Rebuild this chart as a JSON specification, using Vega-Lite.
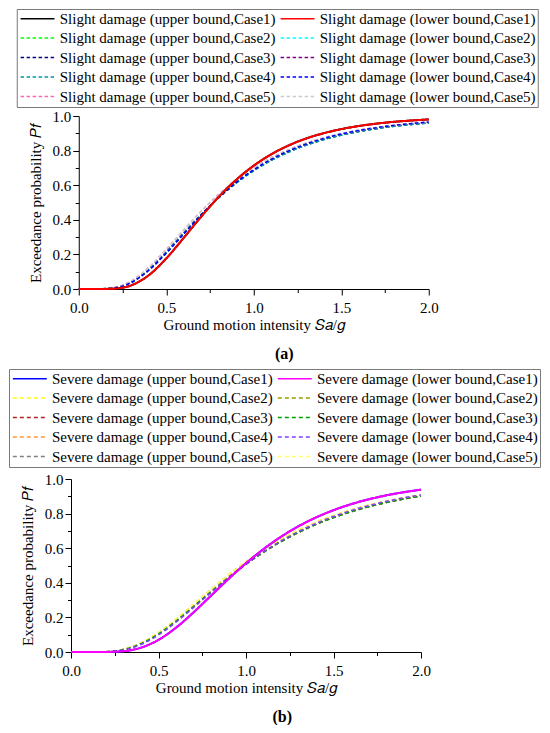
{
  "$schema": "https://vega.github.io/schema/vega-lite/v6.json",
  "padding": {"left": 8, "top": 8, "right": 0, "bottom": 0},
  "background": "white",
  "spacing": 6,
  "center": true,
  "resolve": {"scale": {"color": "independent", "strokeDash": "independent"}, "legend": {"color": "independent", "strokeDash": "independent"}},
  "config": {
    "font": "Liberation Serif",
    "view": {"stroke": null},
    "axis": {
      "labelFont": "Liberation Serif",
      "titleFont": "Liberation Serif",
      "labelFontSize": 15,
      "titleFontSize": 15,
      "titleFontWeight": "normal",
      "labelColor": "black",
      "titleColor": "black",
      "domainColor": "black",
      "tickColor": "black",
      "grid": false,
      "labelPadding": 2,
      "titlePadding": 3,
      "labelOverlap": false,
      "labelFlush": false
    },
    "axisX": {"labelPadding": 5, "titlePadding": 2},
    "axisY": {"titlePadding": 9},
    "legend": {
      "orient": "none",
      "direction": "horizontal",
      "columns": 2,
      "columnPadding": 1,
      "rowPadding": 3.5,
      "padding": 2,
      "labelFont": "Liberation Serif",
      "labelFontSize": 15,
      "labelColor": "black",
      "labelLimit": 0,
      "labelOffset": 26,
      "symbolType": "M-1,0H5",
      "symbolSize": 128,
      "symbolStrokeWidth": 1.6,
      "strokeColor": "#7a7a7a",
      "fillColor": "white"
    },
    "title": {
      "orient": "bottom",
      "font": "Liberation Serif",
      "fontSize": 16,
      "fontWeight": "bold",
      "color": "black",
      "offset": 14,
      "frame": "bounds"
    }
  },
  "datasets": {
    "a": [
      {"s":"Slight damage (upper bound,Case2)","x":0,"p":0},{"s":"Slight damage (upper bound,Case2)","x":0.1,"p":0.0001},{"s":"Slight damage (upper bound,Case2)","x":0.2,"p":0.0067},{"s":"Slight damage (upper bound,Case2)","x":0.3,"p":0.0419},{"s":"Slight damage (upper bound,Case2)","x":0.4,"p":0.1147},{"s":"Slight damage (upper bound,Case2)","x":0.5,"p":0.2141},{"s":"Slight damage (upper bound,Case2)","x":0.6,"p":0.3236},{"s":"Slight damage (upper bound,Case2)","x":0.7,"p":0.4306},{"s":"Slight damage (upper bound,Case2)","x":0.8,"p":0.528},{"s":"Slight damage (upper bound,Case2)","x":0.9,"p":0.6126},{"s":"Slight damage (upper bound,Case2)","x":1.0,"p":0.6843},{"s":"Slight damage (upper bound,Case2)","x":1.1,"p":0.7436},{"s":"Slight damage (upper bound,Case2)","x":1.2,"p":0.7922},{"s":"Slight damage (upper bound,Case2)","x":1.3,"p":0.8317},{"s":"Slight damage (upper bound,Case2)","x":1.4,"p":0.8637},{"s":"Slight damage (upper bound,Case2)","x":1.5,"p":0.8895},{"s":"Slight damage (upper bound,Case2)","x":1.6,"p":0.9102},{"s":"Slight damage (upper bound,Case2)","x":1.7,"p":0.9269},{"s":"Slight damage (upper bound,Case2)","x":1.8,"p":0.9404},{"s":"Slight damage (upper bound,Case2)","x":1.9,"p":0.9513},{"s":"Slight damage (upper bound,Case2)","x":2.0,"p":0.9601},
      {"s":"Slight damage (lower bound,Case2)","x":0,"p":0},{"s":"Slight damage (lower bound,Case2)","x":0.1,"p":0.0001},{"s":"Slight damage (lower bound,Case2)","x":0.2,"p":0.0067},{"s":"Slight damage (lower bound,Case2)","x":0.3,"p":0.0419},{"s":"Slight damage (lower bound,Case2)","x":0.4,"p":0.1147},{"s":"Slight damage (lower bound,Case2)","x":0.5,"p":0.2141},{"s":"Slight damage (lower bound,Case2)","x":0.6,"p":0.3236},{"s":"Slight damage (lower bound,Case2)","x":0.7,"p":0.4306},{"s":"Slight damage (lower bound,Case2)","x":0.8,"p":0.528},{"s":"Slight damage (lower bound,Case2)","x":0.9,"p":0.6126},{"s":"Slight damage (lower bound,Case2)","x":1.0,"p":0.6843},{"s":"Slight damage (lower bound,Case2)","x":1.1,"p":0.7436},{"s":"Slight damage (lower bound,Case2)","x":1.2,"p":0.7922},{"s":"Slight damage (lower bound,Case2)","x":1.3,"p":0.8317},{"s":"Slight damage (lower bound,Case2)","x":1.4,"p":0.8637},{"s":"Slight damage (lower bound,Case2)","x":1.5,"p":0.8895},{"s":"Slight damage (lower bound,Case2)","x":1.6,"p":0.9102},{"s":"Slight damage (lower bound,Case2)","x":1.7,"p":0.9269},{"s":"Slight damage (lower bound,Case2)","x":1.8,"p":0.9404},{"s":"Slight damage (lower bound,Case2)","x":1.9,"p":0.9513},{"s":"Slight damage (lower bound,Case2)","x":2.0,"p":0.9601},
      {"s":"Slight damage (upper bound,Case3)","x":0,"p":0},{"s":"Slight damage (upper bound,Case3)","x":0.1,"p":0.0001},{"s":"Slight damage (upper bound,Case3)","x":0.2,"p":0.0055},{"s":"Slight damage (upper bound,Case3)","x":0.3,"p":0.0377},{"s":"Slight damage (upper bound,Case3)","x":0.4,"p":0.1083},{"s":"Slight damage (upper bound,Case3)","x":0.5,"p":0.2077},{"s":"Slight damage (upper bound,Case3)","x":0.6,"p":0.319},{"s":"Slight damage (upper bound,Case3)","x":0.7,"p":0.4287},{"s":"Slight damage (upper bound,Case3)","x":0.8,"p":0.5288},{"s":"Slight damage (upper bound,Case3)","x":0.9,"p":0.6157},{"s":"Slight damage (upper bound,Case3)","x":1.0,"p":0.6891},{"s":"Slight damage (upper bound,Case3)","x":1.1,"p":0.7495},{"s":"Slight damage (upper bound,Case3)","x":1.2,"p":0.7987},{"s":"Slight damage (upper bound,Case3)","x":1.3,"p":0.8385},{"s":"Slight damage (upper bound,Case3)","x":1.4,"p":0.8704},{"s":"Slight damage (upper bound,Case3)","x":1.5,"p":0.8959},{"s":"Slight damage (upper bound,Case3)","x":1.6,"p":0.9162},{"s":"Slight damage (upper bound,Case3)","x":1.7,"p":0.9325},{"s":"Slight damage (upper bound,Case3)","x":1.8,"p":0.9455},{"s":"Slight damage (upper bound,Case3)","x":1.9,"p":0.9558},{"s":"Slight damage (upper bound,Case3)","x":2.0,"p":0.9641},
      {"s":"Slight damage (lower bound,Case3)","x":0,"p":0},{"s":"Slight damage (lower bound,Case3)","x":0.1,"p":0.0001},{"s":"Slight damage (lower bound,Case3)","x":0.2,"p":0.0067},{"s":"Slight damage (lower bound,Case3)","x":0.3,"p":0.0419},{"s":"Slight damage (lower bound,Case3)","x":0.4,"p":0.1147},{"s":"Slight damage (lower bound,Case3)","x":0.5,"p":0.2141},{"s":"Slight damage (lower bound,Case3)","x":0.6,"p":0.3236},{"s":"Slight damage (lower bound,Case3)","x":0.7,"p":0.4306},{"s":"Slight damage (lower bound,Case3)","x":0.8,"p":0.528},{"s":"Slight damage (lower bound,Case3)","x":0.9,"p":0.6126},{"s":"Slight damage (lower bound,Case3)","x":1.0,"p":0.6843},{"s":"Slight damage (lower bound,Case3)","x":1.1,"p":0.7436},{"s":"Slight damage (lower bound,Case3)","x":1.2,"p":0.7922},{"s":"Slight damage (lower bound,Case3)","x":1.3,"p":0.8317},{"s":"Slight damage (lower bound,Case3)","x":1.4,"p":0.8637},{"s":"Slight damage (lower bound,Case3)","x":1.5,"p":0.8895},{"s":"Slight damage (lower bound,Case3)","x":1.6,"p":0.9102},{"s":"Slight damage (lower bound,Case3)","x":1.7,"p":0.9269},{"s":"Slight damage (lower bound,Case3)","x":1.8,"p":0.9404},{"s":"Slight damage (lower bound,Case3)","x":1.9,"p":0.9513},{"s":"Slight damage (lower bound,Case3)","x":2.0,"p":0.9601},
      {"s":"Slight damage (upper bound,Case4)","x":0,"p":0},{"s":"Slight damage (upper bound,Case4)","x":0.1,"p":0.0001},{"s":"Slight damage (upper bound,Case4)","x":0.2,"p":0.0067},{"s":"Slight damage (upper bound,Case4)","x":0.3,"p":0.0419},{"s":"Slight damage (upper bound,Case4)","x":0.4,"p":0.1147},{"s":"Slight damage (upper bound,Case4)","x":0.5,"p":0.2141},{"s":"Slight damage (upper bound,Case4)","x":0.6,"p":0.3236},{"s":"Slight damage (upper bound,Case4)","x":0.7,"p":0.4306},{"s":"Slight damage (upper bound,Case4)","x":0.8,"p":0.528},{"s":"Slight damage (upper bound,Case4)","x":0.9,"p":0.6126},{"s":"Slight damage (upper bound,Case4)","x":1.0,"p":0.6843},{"s":"Slight damage (upper bound,Case4)","x":1.1,"p":0.7436},{"s":"Slight damage (upper bound,Case4)","x":1.2,"p":0.7922},{"s":"Slight damage (upper bound,Case4)","x":1.3,"p":0.8317},{"s":"Slight damage (upper bound,Case4)","x":1.4,"p":0.8637},{"s":"Slight damage (upper bound,Case4)","x":1.5,"p":0.8895},{"s":"Slight damage (upper bound,Case4)","x":1.6,"p":0.9102},{"s":"Slight damage (upper bound,Case4)","x":1.7,"p":0.9269},{"s":"Slight damage (upper bound,Case4)","x":1.8,"p":0.9404},{"s":"Slight damage (upper bound,Case4)","x":1.9,"p":0.9513},{"s":"Slight damage (upper bound,Case4)","x":2.0,"p":0.9601},
      {"s":"Slight damage (upper bound,Case5)","x":0,"p":0},{"s":"Slight damage (upper bound,Case5)","x":0.1,"p":0.0001},{"s":"Slight damage (upper bound,Case5)","x":0.2,"p":0.0077},{"s":"Slight damage (upper bound,Case5)","x":0.3,"p":0.0464},{"s":"Slight damage (upper bound,Case5)","x":0.4,"p":0.1244},{"s":"Slight damage (upper bound,Case5)","x":0.5,"p":0.2285},{"s":"Slight damage (upper bound,Case5)","x":0.6,"p":0.3412},{"s":"Slight damage (upper bound,Case5)","x":0.7,"p":0.4496},{"s":"Slight damage (upper bound,Case5)","x":0.8,"p":0.5472},{"s":"Slight damage (upper bound,Case5)","x":0.9,"p":0.631},{"s":"Slight damage (upper bound,Case5)","x":1.0,"p":0.7012},{"s":"Slight damage (upper bound,Case5)","x":1.1,"p":0.7589},{"s":"Slight damage (upper bound,Case5)","x":1.2,"p":0.8058},{"s":"Slight damage (upper bound,Case5)","x":1.3,"p":0.8436},{"s":"Slight damage (upper bound,Case5)","x":1.4,"p":0.874},{"s":"Slight damage (upper bound,Case5)","x":1.5,"p":0.8983},{"s":"Slight damage (upper bound,Case5)","x":1.6,"p":0.9178},{"s":"Slight damage (upper bound,Case5)","x":1.7,"p":0.9334},{"s":"Slight damage (upper bound,Case5)","x":1.8,"p":0.9459},{"s":"Slight damage (upper bound,Case5)","x":1.9,"p":0.956},{"s":"Slight damage (upper bound,Case5)","x":2.0,"p":0.964},
      {"s":"Slight damage (lower bound,Case5)","x":0,"p":0},{"s":"Slight damage (lower bound,Case5)","x":0.1,"p":0.0001},{"s":"Slight damage (lower bound,Case5)","x":0.2,"p":0.0077},{"s":"Slight damage (lower bound,Case5)","x":0.3,"p":0.0464},{"s":"Slight damage (lower bound,Case5)","x":0.4,"p":0.1244},{"s":"Slight damage (lower bound,Case5)","x":0.5,"p":0.2285},{"s":"Slight damage (lower bound,Case5)","x":0.6,"p":0.3412},{"s":"Slight damage (lower bound,Case5)","x":0.7,"p":0.4496},{"s":"Slight damage (lower bound,Case5)","x":0.8,"p":0.5472},{"s":"Slight damage (lower bound,Case5)","x":0.9,"p":0.631},{"s":"Slight damage (lower bound,Case5)","x":1.0,"p":0.7012},{"s":"Slight damage (lower bound,Case5)","x":1.1,"p":0.7589},{"s":"Slight damage (lower bound,Case5)","x":1.2,"p":0.8058},{"s":"Slight damage (lower bound,Case5)","x":1.3,"p":0.8436},{"s":"Slight damage (lower bound,Case5)","x":1.4,"p":0.874},{"s":"Slight damage (lower bound,Case5)","x":1.5,"p":0.8983},{"s":"Slight damage (lower bound,Case5)","x":1.6,"p":0.9178},{"s":"Slight damage (lower bound,Case5)","x":1.7,"p":0.9334},{"s":"Slight damage (lower bound,Case5)","x":1.8,"p":0.9459},{"s":"Slight damage (lower bound,Case5)","x":1.9,"p":0.956},{"s":"Slight damage (lower bound,Case5)","x":2.0,"p":0.964},
      {"s":"Slight damage (lower bound,Case4)","x":0,"p":0},{"s":"Slight damage (lower bound,Case4)","x":0.1,"p":0.0001},{"s":"Slight damage (lower bound,Case4)","x":0.2,"p":0.0055},{"s":"Slight damage (lower bound,Case4)","x":0.3,"p":0.0377},{"s":"Slight damage (lower bound,Case4)","x":0.4,"p":0.1083},{"s":"Slight damage (lower bound,Case4)","x":0.5,"p":0.2077},{"s":"Slight damage (lower bound,Case4)","x":0.6,"p":0.319},{"s":"Slight damage (lower bound,Case4)","x":0.7,"p":0.4287},{"s":"Slight damage (lower bound,Case4)","x":0.8,"p":0.5288},{"s":"Slight damage (lower bound,Case4)","x":0.9,"p":0.6157},{"s":"Slight damage (lower bound,Case4)","x":1.0,"p":0.6891},{"s":"Slight damage (lower bound,Case4)","x":1.1,"p":0.7495},{"s":"Slight damage (lower bound,Case4)","x":1.2,"p":0.7987},{"s":"Slight damage (lower bound,Case4)","x":1.3,"p":0.8385},{"s":"Slight damage (lower bound,Case4)","x":1.4,"p":0.8704},{"s":"Slight damage (lower bound,Case4)","x":1.5,"p":0.8959},{"s":"Slight damage (lower bound,Case4)","x":1.6,"p":0.9162},{"s":"Slight damage (lower bound,Case4)","x":1.7,"p":0.9325},{"s":"Slight damage (lower bound,Case4)","x":1.8,"p":0.9455},{"s":"Slight damage (lower bound,Case4)","x":1.9,"p":0.9558},{"s":"Slight damage (lower bound,Case4)","x":2.0,"p":0.9641},
      {"s":"Slight damage (upper bound,Case1)","x":0,"p":0},{"s":"Slight damage (upper bound,Case1)","x":0.1,"p":0},{"s":"Slight damage (upper bound,Case1)","x":0.2,"p":0.0019},{"s":"Slight damage (upper bound,Case1)","x":0.3,"p":0.0213},{"s":"Slight damage (upper bound,Case1)","x":0.4,"p":0.0796},{"s":"Slight damage (upper bound,Case1)","x":0.5,"p":0.1766},{"s":"Slight damage (upper bound,Case1)","x":0.6,"p":0.2959},{"s":"Slight damage (upper bound,Case1)","x":0.7,"p":0.4188},{"s":"Slight damage (upper bound,Case1)","x":0.8,"p":0.5328},{"s":"Slight damage (upper bound,Case1)","x":0.9,"p":0.6314},{"s":"Slight damage (upper bound,Case1)","x":1.0,"p":0.713},{"s":"Slight damage (upper bound,Case1)","x":1.1,"p":0.7785},{"s":"Slight damage (upper bound,Case1)","x":1.2,"p":0.83},{"s":"Slight damage (upper bound,Case1)","x":1.3,"p":0.87},{"s":"Slight damage (upper bound,Case1)","x":1.4,"p":0.9007},{"s":"Slight damage (upper bound,Case1)","x":1.5,"p":0.9242},{"s":"Slight damage (upper bound,Case1)","x":1.6,"p":0.9421},{"s":"Slight damage (upper bound,Case1)","x":1.7,"p":0.9557},{"s":"Slight damage (upper bound,Case1)","x":1.8,"p":0.9661},{"s":"Slight damage (upper bound,Case1)","x":1.9,"p":0.974},{"s":"Slight damage (upper bound,Case1)","x":2.0,"p":0.98},
      {"s":"Slight damage (lower bound,Case1)","x":0,"p":0},{"s":"Slight damage (lower bound,Case1)","x":0.1,"p":0},{"s":"Slight damage (lower bound,Case1)","x":0.2,"p":0.0019},{"s":"Slight damage (lower bound,Case1)","x":0.3,"p":0.0213},{"s":"Slight damage (lower bound,Case1)","x":0.4,"p":0.0796},{"s":"Slight damage (lower bound,Case1)","x":0.5,"p":0.1766},{"s":"Slight damage (lower bound,Case1)","x":0.6,"p":0.2959},{"s":"Slight damage (lower bound,Case1)","x":0.7,"p":0.4188},{"s":"Slight damage (lower bound,Case1)","x":0.8,"p":0.5328},{"s":"Slight damage (lower bound,Case1)","x":0.9,"p":0.6314},{"s":"Slight damage (lower bound,Case1)","x":1.0,"p":0.713},{"s":"Slight damage (lower bound,Case1)","x":1.1,"p":0.7785},{"s":"Slight damage (lower bound,Case1)","x":1.2,"p":0.83},{"s":"Slight damage (lower bound,Case1)","x":1.3,"p":0.87},{"s":"Slight damage (lower bound,Case1)","x":1.4,"p":0.9007},{"s":"Slight damage (lower bound,Case1)","x":1.5,"p":0.9242},{"s":"Slight damage (lower bound,Case1)","x":1.6,"p":0.9421},{"s":"Slight damage (lower bound,Case1)","x":1.7,"p":0.9557},{"s":"Slight damage (lower bound,Case1)","x":1.8,"p":0.9661},{"s":"Slight damage (lower bound,Case1)","x":1.9,"p":0.974},{"s":"Slight damage (lower bound,Case1)","x":2.0,"p":0.98}
    ],
    "b": [
      {"s":"Severe damage (upper bound,Case2)","x":0,"p":0},{"s":"Severe damage (upper bound,Case2)","x":0.1,"p":0},{"s":"Severe damage (upper bound,Case2)","x":0.2,"p":0.0019},{"s":"Severe damage (upper bound,Case2)","x":0.3,"p":0.0156},{"s":"Severe damage (upper bound,Case2)","x":0.4,"p":0.052},{"s":"Severe damage (upper bound,Case2)","x":0.5,"p":0.112},{"s":"Severe damage (upper bound,Case2)","x":0.6,"p":0.189},{"s":"Severe damage (upper bound,Case2)","x":0.7,"p":0.2747},{"s":"Severe damage (upper bound,Case2)","x":0.8,"p":0.3619},{"s":"Severe damage (upper bound,Case2)","x":0.9,"p":0.4454},{"s":"Severe damage (upper bound,Case2)","x":1.0,"p":0.5223},{"s":"Severe damage (upper bound,Case2)","x":1.1,"p":0.5913},{"s":"Severe damage (upper bound,Case2)","x":1.2,"p":0.6519},{"s":"Severe damage (upper bound,Case2)","x":1.3,"p":0.7045},{"s":"Severe damage (upper bound,Case2)","x":1.4,"p":0.7496},{"s":"Severe damage (upper bound,Case2)","x":1.5,"p":0.7881},{"s":"Severe damage (upper bound,Case2)","x":1.6,"p":0.8207},{"s":"Severe damage (upper bound,Case2)","x":1.7,"p":0.8484},{"s":"Severe damage (upper bound,Case2)","x":1.8,"p":0.8717},{"s":"Severe damage (upper bound,Case2)","x":1.9,"p":0.8914},{"s":"Severe damage (upper bound,Case2)","x":2.0,"p":0.9079},
      {"s":"Severe damage (lower bound,Case2)","x":0,"p":0},{"s":"Severe damage (lower bound,Case2)","x":0.1,"p":0},{"s":"Severe damage (lower bound,Case2)","x":0.2,"p":0.0017},{"s":"Severe damage (lower bound,Case2)","x":0.3,"p":0.0142},{"s":"Severe damage (lower bound,Case2)","x":0.4,"p":0.0482},{"s":"Severe damage (lower bound,Case2)","x":0.5,"p":0.105},{"s":"Severe damage (lower bound,Case2)","x":0.6,"p":0.1791},{"s":"Severe damage (lower bound,Case2)","x":0.7,"p":0.2624},{"s":"Severe damage (lower bound,Case2)","x":0.8,"p":0.3479},{"s":"Severe damage (lower bound,Case2)","x":0.9,"p":0.4306},{"s":"Severe damage (lower bound,Case2)","x":1.0,"p":0.5074},{"s":"Severe damage (lower bound,Case2)","x":1.1,"p":0.5766},{"s":"Severe damage (lower bound,Case2)","x":1.2,"p":0.638},{"s":"Severe damage (lower bound,Case2)","x":1.3,"p":0.6914},{"s":"Severe damage (lower bound,Case2)","x":1.4,"p":0.7376},{"s":"Severe damage (lower bound,Case2)","x":1.5,"p":0.7771},{"s":"Severe damage (lower bound,Case2)","x":1.6,"p":0.8108},{"s":"Severe damage (lower bound,Case2)","x":1.7,"p":0.8394},{"s":"Severe damage (lower bound,Case2)","x":1.8,"p":0.8637},{"s":"Severe damage (lower bound,Case2)","x":1.9,"p":0.8842},{"s":"Severe damage (lower bound,Case2)","x":2.0,"p":0.9015},
      {"s":"Severe damage (upper bound,Case3)","x":0,"p":0},{"s":"Severe damage (upper bound,Case3)","x":0.1,"p":0},{"s":"Severe damage (upper bound,Case3)","x":0.2,"p":0.0017},{"s":"Severe damage (upper bound,Case3)","x":0.3,"p":0.0142},{"s":"Severe damage (upper bound,Case3)","x":0.4,"p":0.0482},{"s":"Severe damage (upper bound,Case3)","x":0.5,"p":0.105},{"s":"Severe damage (upper bound,Case3)","x":0.6,"p":0.1791},{"s":"Severe damage (upper bound,Case3)","x":0.7,"p":0.2624},{"s":"Severe damage (upper bound,Case3)","x":0.8,"p":0.3479},{"s":"Severe damage (upper bound,Case3)","x":0.9,"p":0.4306},{"s":"Severe damage (upper bound,Case3)","x":1.0,"p":0.5074},{"s":"Severe damage (upper bound,Case3)","x":1.1,"p":0.5766},{"s":"Severe damage (upper bound,Case3)","x":1.2,"p":0.638},{"s":"Severe damage (upper bound,Case3)","x":1.3,"p":0.6914},{"s":"Severe damage (upper bound,Case3)","x":1.4,"p":0.7376},{"s":"Severe damage (upper bound,Case3)","x":1.5,"p":0.7771},{"s":"Severe damage (upper bound,Case3)","x":1.6,"p":0.8108},{"s":"Severe damage (upper bound,Case3)","x":1.7,"p":0.8394},{"s":"Severe damage (upper bound,Case3)","x":1.8,"p":0.8637},{"s":"Severe damage (upper bound,Case3)","x":1.9,"p":0.8842},{"s":"Severe damage (upper bound,Case3)","x":2.0,"p":0.9015},
      {"s":"Severe damage (upper bound,Case4)","x":0,"p":0},{"s":"Severe damage (upper bound,Case4)","x":0.1,"p":0},{"s":"Severe damage (upper bound,Case4)","x":0.2,"p":0.0019},{"s":"Severe damage (upper bound,Case4)","x":0.3,"p":0.0156},{"s":"Severe damage (upper bound,Case4)","x":0.4,"p":0.052},{"s":"Severe damage (upper bound,Case4)","x":0.5,"p":0.112},{"s":"Severe damage (upper bound,Case4)","x":0.6,"p":0.189},{"s":"Severe damage (upper bound,Case4)","x":0.7,"p":0.2747},{"s":"Severe damage (upper bound,Case4)","x":0.8,"p":0.3619},{"s":"Severe damage (upper bound,Case4)","x":0.9,"p":0.4454},{"s":"Severe damage (upper bound,Case4)","x":1.0,"p":0.5223},{"s":"Severe damage (upper bound,Case4)","x":1.1,"p":0.5913},{"s":"Severe damage (upper bound,Case4)","x":1.2,"p":0.6519},{"s":"Severe damage (upper bound,Case4)","x":1.3,"p":0.7045},{"s":"Severe damage (upper bound,Case4)","x":1.4,"p":0.7496},{"s":"Severe damage (upper bound,Case4)","x":1.5,"p":0.7881},{"s":"Severe damage (upper bound,Case4)","x":1.6,"p":0.8207},{"s":"Severe damage (upper bound,Case4)","x":1.7,"p":0.8484},{"s":"Severe damage (upper bound,Case4)","x":1.8,"p":0.8717},{"s":"Severe damage (upper bound,Case4)","x":1.9,"p":0.8914},{"s":"Severe damage (upper bound,Case4)","x":2.0,"p":0.9079},
      {"s":"Severe damage (upper bound,Case5)","x":0,"p":0},{"s":"Severe damage (upper bound,Case5)","x":0.1,"p":0},{"s":"Severe damage (upper bound,Case5)","x":0.2,"p":0.0017},{"s":"Severe damage (upper bound,Case5)","x":0.3,"p":0.0142},{"s":"Severe damage (upper bound,Case5)","x":0.4,"p":0.0482},{"s":"Severe damage (upper bound,Case5)","x":0.5,"p":0.105},{"s":"Severe damage (upper bound,Case5)","x":0.6,"p":0.1791},{"s":"Severe damage (upper bound,Case5)","x":0.7,"p":0.2624},{"s":"Severe damage (upper bound,Case5)","x":0.8,"p":0.3479},{"s":"Severe damage (upper bound,Case5)","x":0.9,"p":0.4306},{"s":"Severe damage (upper bound,Case5)","x":1.0,"p":0.5074},{"s":"Severe damage (upper bound,Case5)","x":1.1,"p":0.5766},{"s":"Severe damage (upper bound,Case5)","x":1.2,"p":0.638},{"s":"Severe damage (upper bound,Case5)","x":1.3,"p":0.6914},{"s":"Severe damage (upper bound,Case5)","x":1.4,"p":0.7376},{"s":"Severe damage (upper bound,Case5)","x":1.5,"p":0.7771},{"s":"Severe damage (upper bound,Case5)","x":1.6,"p":0.8108},{"s":"Severe damage (upper bound,Case5)","x":1.7,"p":0.8394},{"s":"Severe damage (upper bound,Case5)","x":1.8,"p":0.8637},{"s":"Severe damage (upper bound,Case5)","x":1.9,"p":0.8842},{"s":"Severe damage (upper bound,Case5)","x":2.0,"p":0.9015},
      {"s":"Severe damage (lower bound,Case5)","x":0,"p":0},{"s":"Severe damage (lower bound,Case5)","x":0.1,"p":0},{"s":"Severe damage (lower bound,Case5)","x":0.2,"p":0.0019},{"s":"Severe damage (lower bound,Case5)","x":0.3,"p":0.0156},{"s":"Severe damage (lower bound,Case5)","x":0.4,"p":0.052},{"s":"Severe damage (lower bound,Case5)","x":0.5,"p":0.112},{"s":"Severe damage (lower bound,Case5)","x":0.6,"p":0.189},{"s":"Severe damage (lower bound,Case5)","x":0.7,"p":0.2747},{"s":"Severe damage (lower bound,Case5)","x":0.8,"p":0.3619},{"s":"Severe damage (lower bound,Case5)","x":0.9,"p":0.4454},{"s":"Severe damage (lower bound,Case5)","x":1.0,"p":0.5223},{"s":"Severe damage (lower bound,Case5)","x":1.1,"p":0.5913},{"s":"Severe damage (lower bound,Case5)","x":1.2,"p":0.6519},{"s":"Severe damage (lower bound,Case5)","x":1.3,"p":0.7045},{"s":"Severe damage (lower bound,Case5)","x":1.4,"p":0.7496},{"s":"Severe damage (lower bound,Case5)","x":1.5,"p":0.7881},{"s":"Severe damage (lower bound,Case5)","x":1.6,"p":0.8207},{"s":"Severe damage (lower bound,Case5)","x":1.7,"p":0.8484},{"s":"Severe damage (lower bound,Case5)","x":1.8,"p":0.8717},{"s":"Severe damage (lower bound,Case5)","x":1.9,"p":0.8914},{"s":"Severe damage (lower bound,Case5)","x":2.0,"p":0.9079},
      {"s":"Severe damage (lower bound,Case3)","x":0,"p":0},{"s":"Severe damage (lower bound,Case3)","x":0.1,"p":0},{"s":"Severe damage (lower bound,Case3)","x":0.2,"p":0.0017},{"s":"Severe damage (lower bound,Case3)","x":0.3,"p":0.0142},{"s":"Severe damage (lower bound,Case3)","x":0.4,"p":0.0482},{"s":"Severe damage (lower bound,Case3)","x":0.5,"p":0.105},{"s":"Severe damage (lower bound,Case3)","x":0.6,"p":0.1791},{"s":"Severe damage (lower bound,Case3)","x":0.7,"p":0.2624},{"s":"Severe damage (lower bound,Case3)","x":0.8,"p":0.3479},{"s":"Severe damage (lower bound,Case3)","x":0.9,"p":0.4306},{"s":"Severe damage (lower bound,Case3)","x":1.0,"p":0.5074},{"s":"Severe damage (lower bound,Case3)","x":1.1,"p":0.5766},{"s":"Severe damage (lower bound,Case3)","x":1.2,"p":0.638},{"s":"Severe damage (lower bound,Case3)","x":1.3,"p":0.6914},{"s":"Severe damage (lower bound,Case3)","x":1.4,"p":0.7376},{"s":"Severe damage (lower bound,Case3)","x":1.5,"p":0.7771},{"s":"Severe damage (lower bound,Case3)","x":1.6,"p":0.8108},{"s":"Severe damage (lower bound,Case3)","x":1.7,"p":0.8394},{"s":"Severe damage (lower bound,Case3)","x":1.8,"p":0.8637},{"s":"Severe damage (lower bound,Case3)","x":1.9,"p":0.8842},{"s":"Severe damage (lower bound,Case3)","x":2.0,"p":0.9015},
      {"s":"Severe damage (lower bound,Case4)","x":0,"p":0},{"s":"Severe damage (lower bound,Case4)","x":0.1,"p":0},{"s":"Severe damage (lower bound,Case4)","x":0.2,"p":0.0013},{"s":"Severe damage (lower bound,Case4)","x":0.3,"p":0.0121},{"s":"Severe damage (lower bound,Case4)","x":0.4,"p":0.0436},{"s":"Severe damage (lower bound,Case4)","x":0.5,"p":0.0987},{"s":"Severe damage (lower bound,Case4)","x":0.6,"p":0.1724},{"s":"Severe damage (lower bound,Case4)","x":0.7,"p":0.2565},{"s":"Severe damage (lower bound,Case4)","x":0.8,"p":0.3438},{"s":"Severe damage (lower bound,Case4)","x":0.9,"p":0.4286},{"s":"Severe damage (lower bound,Case4)","x":1.0,"p":0.5075},{"s":"Severe damage (lower bound,Case4)","x":1.1,"p":0.5788},{"s":"Severe damage (lower bound,Case4)","x":1.2,"p":0.6417},{"s":"Severe damage (lower bound,Case4)","x":1.3,"p":0.6964},{"s":"Severe damage (lower bound,Case4)","x":1.4,"p":0.7434},{"s":"Severe damage (lower bound,Case4)","x":1.5,"p":0.7835},{"s":"Severe damage (lower bound,Case4)","x":1.6,"p":0.8174},{"s":"Severe damage (lower bound,Case4)","x":1.7,"p":0.8461},{"s":"Severe damage (lower bound,Case4)","x":1.8,"p":0.8703},{"s":"Severe damage (lower bound,Case4)","x":1.9,"p":0.8907},{"s":"Severe damage (lower bound,Case4)","x":2.0,"p":0.9077},
      {"s":"Severe damage (upper bound,Case1)","x":0,"p":0},{"s":"Severe damage (upper bound,Case1)","x":0.1,"p":0},{"s":"Severe damage (upper bound,Case1)","x":0.2,"p":0.0003},{"s":"Severe damage (upper bound,Case1)","x":0.3,"p":0.0049},{"s":"Severe damage (upper bound,Case1)","x":0.4,"p":0.0251},{"s":"Severe damage (upper bound,Case1)","x":0.5,"p":0.0702},{"s":"Severe damage (upper bound,Case1)","x":0.6,"p":0.1406},{"s":"Severe damage (upper bound,Case1)","x":0.7,"p":0.2289},{"s":"Severe damage (upper bound,Case1)","x":0.8,"p":0.3256},{"s":"Severe damage (upper bound,Case1)","x":0.9,"p":0.4222},{"s":"Severe damage (upper bound,Case1)","x":1.0,"p":0.5131},{"s":"Severe damage (upper bound,Case1)","x":1.1,"p":0.5948},{"s":"Severe damage (upper bound,Case1)","x":1.2,"p":0.6661},{"s":"Severe damage (upper bound,Case1)","x":1.3,"p":0.7268},{"s":"Severe damage (upper bound,Case1)","x":1.4,"p":0.7777},{"s":"Severe damage (upper bound,Case1)","x":1.5,"p":0.8197},{"s":"Severe damage (upper bound,Case1)","x":1.6,"p":0.8542},{"s":"Severe damage (upper bound,Case1)","x":1.7,"p":0.8822},{"s":"Severe damage (upper bound,Case1)","x":1.8,"p":0.905},{"s":"Severe damage (upper bound,Case1)","x":1.9,"p":0.9234},{"s":"Severe damage (upper bound,Case1)","x":2.0,"p":0.9382},
      {"s":"Severe damage (lower bound,Case1)","x":0,"p":0},{"s":"Severe damage (lower bound,Case1)","x":0.1,"p":0},{"s":"Severe damage (lower bound,Case1)","x":0.2,"p":0.0003},{"s":"Severe damage (lower bound,Case1)","x":0.3,"p":0.0049},{"s":"Severe damage (lower bound,Case1)","x":0.4,"p":0.0251},{"s":"Severe damage (lower bound,Case1)","x":0.5,"p":0.0702},{"s":"Severe damage (lower bound,Case1)","x":0.6,"p":0.1406},{"s":"Severe damage (lower bound,Case1)","x":0.7,"p":0.2289},{"s":"Severe damage (lower bound,Case1)","x":0.8,"p":0.3256},{"s":"Severe damage (lower bound,Case1)","x":0.9,"p":0.4222},{"s":"Severe damage (lower bound,Case1)","x":1.0,"p":0.5131},{"s":"Severe damage (lower bound,Case1)","x":1.1,"p":0.5948},{"s":"Severe damage (lower bound,Case1)","x":1.2,"p":0.6661},{"s":"Severe damage (lower bound,Case1)","x":1.3,"p":0.7268},{"s":"Severe damage (lower bound,Case1)","x":1.4,"p":0.7777},{"s":"Severe damage (lower bound,Case1)","x":1.5,"p":0.8197},{"s":"Severe damage (lower bound,Case1)","x":1.6,"p":0.8542},{"s":"Severe damage (lower bound,Case1)","x":1.7,"p":0.8822},{"s":"Severe damage (lower bound,Case1)","x":1.8,"p":0.905},{"s":"Severe damage (lower bound,Case1)","x":1.9,"p":0.9234},{"s":"Severe damage (lower bound,Case1)","x":2.0,"p":0.9382}
    ]
  },
  "vconcat": [
    {
      "data": {"name": "a"},
      "width": 350,
      "height": 173,
      "title": {"text": "(a)", "dx": 7},
      "encoding": {
        "x": {
          "field": "x",
          "type": "quantitative",
          "scale": {"domain": [0, 2], "nice": false, "zero": false},
          "axis": {
            "title": "Ground motion intensity 𝑆𝑎/𝑔",
            "values": [0, 0.25, 0.5, 0.75, 1, 1.25, 1.5, 1.75, 2],
            "labelExpr": "round(datum.value * 100) % 50 == 0 ? format(datum.value, '.1f') : ''",
            "tickSize": {"condition": {"test": "round(datum.value * 100) % 50 == 0", "value": 6}, "value": 3.5}
          }
        },
        "y": {
          "field": "p",
          "type": "quantitative",
          "scale": {"domain": [0, 1], "nice": false},
          "axis": {
            "title": "Exceedance probability 𝑃𝑓",
            "values": [0, 0.1, 0.2, 0.3, 0.4, 0.5, 0.6, 0.7, 0.8, 0.9, 1],
            "labelExpr": "round(datum.value * 10) % 2 == 0 ? format(datum.value, '.1f') : ''",
            "tickSize": {"condition": {"test": "round(datum.value * 10) % 2 == 0", "value": 6}, "value": 3.5}
          }
        },
        "color": {
          "field": "s",
          "type": "nominal",
          "scale": {
            "domain": [
              "Slight damage (upper bound,Case1)", "Slight damage (lower bound,Case1)",
              "Slight damage (upper bound,Case2)", "Slight damage (lower bound,Case2)",
              "Slight damage (upper bound,Case3)", "Slight damage (lower bound,Case3)",
              "Slight damage (upper bound,Case4)", "Slight damage (lower bound,Case4)",
              "Slight damage (upper bound,Case5)", "Slight damage (lower bound,Case5)"
            ],
            "range": ["#000000", "#ff0000", "#00ff00", "#00ffff", "#000080", "#800080", "#009999", "#0000ff", "#ff66b3", "#cccccc"]
          },
          "legend": {"title": null, "legendX": -62, "legendY": -107}
        },
        "strokeDash": {
          "field": "s",
          "type": "nominal",
          "scale": {
            "domain": [
              "Slight damage (upper bound,Case1)", "Slight damage (lower bound,Case1)",
              "Slight damage (upper bound,Case2)", "Slight damage (lower bound,Case2)",
              "Slight damage (upper bound,Case3)", "Slight damage (lower bound,Case3)",
              "Slight damage (upper bound,Case4)", "Slight damage (lower bound,Case4)",
              "Slight damage (upper bound,Case5)", "Slight damage (lower bound,Case5)"
            ],
            "range": [[1, 0], [1, 0], [3.5, 2.5], [3.5, 2.5], [3.5, 2.5], [3.5, 2.5], [3.5, 2.5], [3.5, 2.5], [3.5, 2.5], [3.5, 2.5]]
          },
          "legend": {"title": null, "legendX": -62, "legendY": -107}
        }
      },
      "layer": [
        {
          "transform": [{"filter": "indexof(datum.s, 'Case1') < 0"}],
          "mark": {"type": "line", "interpolate": "monotone", "strokeWidth": 1.5}
        },
        {
          "transform": [{"filter": "indexof(datum.s, 'Case1') >= 0"}],
          "mark": {"type": "line", "interpolate": "monotone", "strokeWidth": 2}
        }
      ]
    },
    {
      "data": {"name": "b"},
      "width": 350,
      "height": 173,
      "title": {"text": "(b)", "dx": 5},
      "resolve": {"axis": {"y": "independent"}},
      "encoding": {
        "x": {
          "field": "x",
          "type": "quantitative",
          "scale": {"domain": [0, 2], "nice": false, "zero": false},
          "axis": {
            "title": "Ground motion intensity 𝑆𝑎/𝑔",
            "values": [0, 0.25, 0.5, 0.75, 1, 1.25, 1.5, 1.75, 2],
            "labelExpr": "round(datum.value * 100) % 50 == 0 ? format(datum.value, '.1f') : ''",
            "tickSize": {"condition": {"test": "round(datum.value * 100) % 50 == 0", "value": 6}, "value": 3.5}
          }
        },
        "color": {
          "field": "s",
          "type": "nominal",
          "scale": {
            "domain": [
              "Severe damage (upper bound,Case1)", "Severe damage (lower bound,Case1)",
              "Severe damage (upper bound,Case2)", "Severe damage (lower bound,Case2)",
              "Severe damage (upper bound,Case3)", "Severe damage (lower bound,Case3)",
              "Severe damage (upper bound,Case4)", "Severe damage (lower bound,Case4)",
              "Severe damage (upper bound,Case5)", "Severe damage (lower bound,Case5)"
            ],
            "range": ["#0000ff", "#ff00ff", "#ffff00", "#999900", "#b22222", "#00a000", "#ff9933", "#8040ff", "#808080", "#ffff66"]
          },
          "legend": {"title": null, "legendX": -62, "legendY": -110}
        },
        "strokeDash": {
          "field": "s",
          "type": "nominal",
          "scale": {
            "domain": [
              "Severe damage (upper bound,Case1)", "Severe damage (lower bound,Case1)",
              "Severe damage (upper bound,Case2)", "Severe damage (lower bound,Case2)",
              "Severe damage (upper bound,Case3)", "Severe damage (lower bound,Case3)",
              "Severe damage (upper bound,Case4)", "Severe damage (lower bound,Case4)",
              "Severe damage (upper bound,Case5)", "Severe damage (lower bound,Case5)"
            ],
            "range": [[1, 0], [1, 0], [4, 3], [4, 3], [4, 3], [4, 3], [4, 3], [4, 3], [4, 3], [4, 3]]
          },
          "legend": {"title": null, "legendX": -62, "legendY": -110}
        }
      },
      "layer": [
        {
          "transform": [{"filter": "indexof(datum.s, 'Case1') < 0"}],
          "mark": {"type": "line", "interpolate": "monotone", "strokeWidth": 1.5},
          "encoding": {
            "y": {
              "field": "p",
              "type": "quantitative",
              "scale": {"domain": [0, 1], "nice": false},
              "axis": {
                "title": "Exceedance probability 𝑃𝑓",
                "values": [0, 0.1, 0.2, 0.3, 0.4, 0.5, 0.6, 0.7, 0.8, 0.9, 1],
                "labelExpr": "round(datum.value * 10) % 2 == 0 ? format(datum.value, '.1f') : ''",
                "tickSize": {"condition": {"test": "round(datum.value * 10) % 2 == 0", "value": 6}, "value": 3.5}
              }
            }
          }
        },
        {
          "transform": [{"filter": "indexof(datum.s, 'Case1') >= 0"}],
          "mark": {"type": "line", "interpolate": "monotone", "strokeWidth": 2},
          "encoding": {
            "y": {
              "field": "p",
              "type": "quantitative",
              "scale": {"domain": [0, 1], "nice": false},
              "axis": {
                "orient": "right",
                "domain": false,
                "ticks": false,
                "labels": false,
                "title": "|",
                "titleColor": "transparent",
                "titlePadding": 110
              }
            }
          }
        }
      ]
    }
  ]
}
